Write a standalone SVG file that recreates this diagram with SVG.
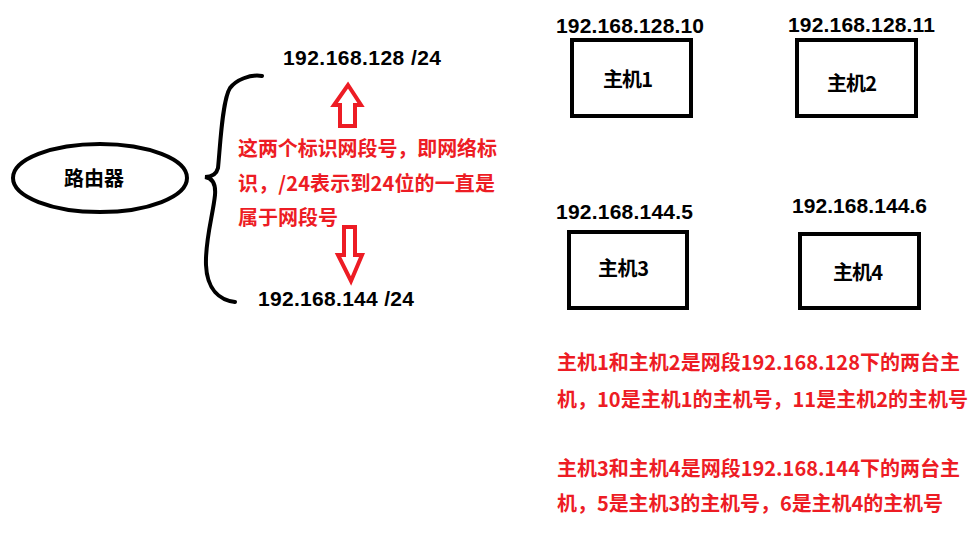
<svg xmlns="http://www.w3.org/2000/svg" width="975" height="536" viewBox="0 0 975 536">
<style>
.t{font-family:"Microsoft YaHei","Noto Sans CJK SC","Liberation Sans",sans-serif;font-weight:bold;font-size:20px;fill:#000}
.n{font-family:"Liberation Sans","Noto Sans CJK SC",sans-serif;font-weight:bold;font-size:21px;fill:#000}
.r{fill:#ed1c24}
.box{fill:none;stroke:#000;stroke-width:4}
.arr{fill:none;stroke:#ed1c24;stroke-width:4;stroke-linejoin:miter}
</style>
<rect width="975" height="536" fill="#fff"/>
<g id="router">
<ellipse cx="100" cy="178" rx="87" ry="34" fill="none" stroke="#000" stroke-width="4"/>
<text class="t" x="64" y="186" textLength="60">路由器</text>
</g>
<g id="connectors">
<path d="M262,76 C250,74 236,80 230,88 C222,100 220,150 218,168 C216,176 210,177 205,177 C212,178 216,183 215,195 C213,215 205,240 206,265 C207,290 220,300 235,302" fill="none" stroke="#000" stroke-width="4" stroke-linecap="round"/>
<polygon class="arr" points="348,85 361,105 355,105 355,126 340,126 340,105 334,105"/>
<polygon class="arr" points="344,227 355,227 355,255 362,255 351,281 338,255 344,255"/>
</g>
<g id="net128"><text class="n" x="283" y="65" textLength="158">192.168.128 /24</text></g>
<g id="net144"><text class="n" x="258" y="306" textLength="156">192.168.144 /24</text></g>
<g id="note1">
<text class="t r" x="238" y="156" textLength="259">这两个标识网段号，即网络标</text>
<text class="t r" x="238" y="191" textLength="257">识，/24表示到24位的一直是</text>
<text class="t r" x="238" y="225">属于网段号</text>
</g>
<g id="host1">
<text class="n" x="556" y="33" textLength="148">192.168.128.10</text>
<rect class="box" x="572" y="40" width="119" height="76"/>
<text class="t" x="603" y="87" textLength="50">主机1</text>
</g>
<g id="host2">
<text class="n" x="788" y="32" textLength="147">192.168.128.11</text>
<rect class="box" x="797" y="40" width="119" height="76"/>
<text class="t" x="827" y="91" textLength="50">主机2</text>
</g>
<g id="host3">
<text class="n" x="556" y="219" textLength="137">192.168.144.5</text>
<rect class="box" x="569" y="232" width="118" height="76"/>
<text class="t" x="598" y="276" textLength="51">主机3</text>
</g>
<g id="host4">
<text class="n" x="792" y="213" textLength="135">192.168.144.6</text>
<rect class="box" x="800" y="234" width="119" height="74"/>
<text class="t" x="833" y="280" textLength="50">主机4</text>
</g>
<g id="note2">
<text class="t r" x="557" y="370" textLength="403">主机1和主机2是网段192.168.128下的两台主</text>
<text class="t r" x="557" y="407" textLength="411">机，10是主机1的主机号，11是主机2的主机号</text>
<text class="t r" x="557" y="476" textLength="403">主机3和主机4是网段192.168.144下的两台主</text>
<text class="t r" x="557" y="511" textLength="386">机，5是主机3的主机号，6是主机4的主机号</text>
</g>
</svg>
